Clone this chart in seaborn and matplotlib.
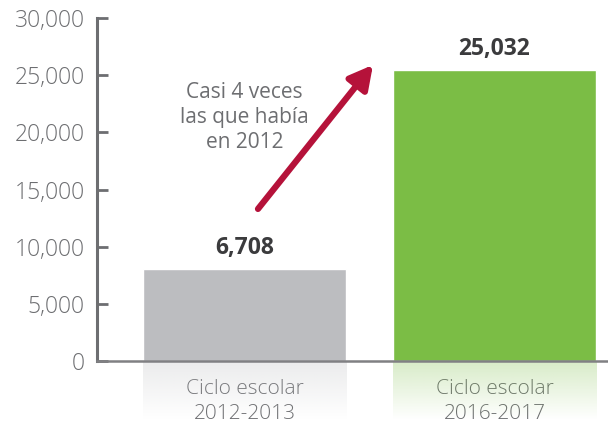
import numpy as np
import seaborn as sns
import matplotlib.pyplot as plt
from matplotlib.colors import to_rgb

# data
ciclos = ['Ciclo escolar\n2012-2013', 'Ciclo escolar\n2016-2017']
alturas = [8050, 25450]          # bar heights as drawn
etiquetas = ['6,708', '25,032']  # printed values
colores = ['#bcbdc0', '#7bbd45']
yticks = [0, 5000, 10000, 15000, 20000, 25000, 30000]

sns.set_style('white')
plt.rcParams['font.family'] = ['Open Sans', 'DejaVu Sans']

gris = '#6d6e71'
fig = plt.figure(figsize=(6.08, 4.26), dpi=100)
ax = fig.add_axes([0.1595, 0.1526, 0.8405, 0.8051])

ancho = 0.812
sns.barplot(x=ciclos, y=alturas, hue=ciclos, palette=colores, legend=False,
            width=ancho, saturation=1, ax=ax, zorder=2)

# faded reflection under the bars
for i, c in enumerate(colores):
    rgb = np.array(to_rgb(c))
    grad = np.zeros((60, 2, 4))
    grad[:, :, :3] = rgb
    grad[:, :, 3] = np.linspace(0.3, 0.0, 60)[:, None]
    ax.imshow(grad, extent=(i - ancho / 2, i + ancho / 2, -5200, 0),
              aspect='auto', clip_on=False, zorder=1, interpolation='bilinear')

for i, (h, t) in enumerate(zip(alturas, etiquetas)):
    ax.text(i, h + 1850, t, ha='center', va='center', fontsize=16.5,
            fontweight='bold', color='#3b3b3d')

ax.annotate('', xy=(0.514, 25900), xytext=(0.054, 13300),
            arrowprops=dict(arrowstyle='-|>,head_length=1.4,head_width=0.75',
                            color='#b5123a', lw=4.5, shrinkA=0, shrinkB=0))
ax.text(0.0, 21300, 'Casi 4 veces\nlas que había\nen 2012', ha='center',
        va='center', fontsize=15, color=gris, linespacing=1.25)

ax.set_xlim(-0.59, 1.454)
ax.set_ylim(0, 30000)
ax.set_yticks(yticks)
ax.set_yticklabels([f'{v:,}' for v in yticks], fontweight='light')
ax.tick_params(axis='y', direction='in', length=8, width=2, color=gris,
               labelsize=16.5, labelcolor=gris, pad=9, left=True)
ax.tick_params(axis='x', length=0, labelsize=15, labelcolor=gris, pad=13)
for lab in ax.get_xticklabels():
    lab.set_linespacing(1.3)
    lab.set_fontweight('light')

for s in ['top', 'right']:
    ax.spines[s].set_visible(False)
ax.spines['left'].set_color(gris)
ax.spines['left'].set_linewidth(2.2)
ax.spines['bottom'].set_color('#808083')
ax.spines['bottom'].set_linewidth(1.8)

fig.savefig('out.png', dpi=100)
